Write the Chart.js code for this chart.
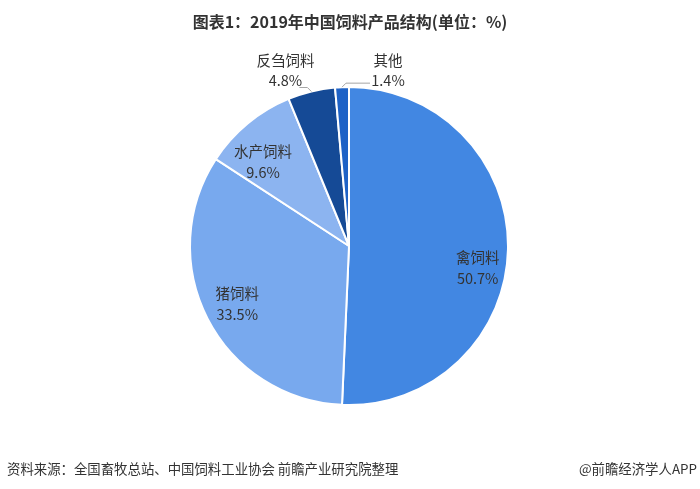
<!DOCTYPE html>
<html>
<head>
<meta charset="utf-8">
<script src="https://cdn.jsdelivr.net/npm/chart.js@4.4.1/dist/chart.umd.min.js"></script>
<style>
  html, body { margin: 0; padding: 0; background: #fff; }
  #wrap { position: relative; width: 700px; height: 489px; overflow: hidden; }
  #title {
    position: absolute; left: 0; top: 9px; width: 700px; text-align: center;
    font: bold 16px "Noto Sans CJK SC", "Noto Sans", sans-serif; color: #333;
  }
  .foot {
    position: absolute; top: 458px;
    font: 13.4px "Noto Sans CJK SC", "Noto Sans", sans-serif; color: #333;
  }
  #source { left: 7px; }
  #brand { right: 3px; }
</style>
</head>
<body>
<div id="wrap">
  <canvas id="pieChart" width="700" height="489"></canvas>
  <div id="title">图表1：2019年中国饲料产品结构(单位：%)</div>
  <div class="foot" id="source">资料来源：全国畜牧总站、中国饲料工业协会 前瞻产业研究院整理</div>
  <div class="foot" id="brand">@前瞻经济学人APP</div>
</div>
<script>
const categories = ['禽饲料', '猪饲料', '水产饲料', '反刍饲料', '其他'];
const shares = [50.7, 33.5, 9.6, 4.8, 1.4];
const sliceColors = ['#4287e2', '#78a9ee', '#8cb4f0', '#154a96', '#1e62c6'];

// how each label sits: inside at a fraction of the radius, or outside with a leader line
const labelPlacement = [
  { inside: true, radius: 0.82, turn: 0.14 },
  { inside: true, radius: 0.79, turn: 0 },
  { inside: true, radius: 0.76, turn: -0.1 },
  { inside: false, side: -1, dx: -22 },
  { inside: false, side: 1, dx: 42 }
];

const pieLabels = {
  id: 'pieLabels',
  afterDatasetsDraw(chart) {
    const ctx = chart.ctx;
    const arcs = chart.getDatasetMeta(0).data;
    ctx.save();
    ctx.font = '14.5px "Noto Sans CJK SC", "Noto Sans", sans-serif';
    ctx.fillStyle = '#333';
    ctx.textAlign = 'center';
    ctx.textBaseline = 'middle';

    arcs.forEach((arc, i) => {
      const place = labelPlacement[i];
      const mid = (arc.startAngle + arc.endAngle) / 2;
      const r = arc.outerRadius;
      const text = `${shares[i].toFixed(1)}%`;

      if (place.inside) {
        const a = mid + place.turn;
        const x = arc.x + Math.cos(a) * r * place.radius;
        const y = arc.y + Math.sin(a) * r * place.radius;
        ctx.fillText(categories[i], x, y - 10);
        ctx.fillText(text, x, y + 11);
        return;
      }

      const x0 = arc.x + Math.cos(mid) * r;
      const y0 = arc.y + Math.sin(mid) * r;
      const x1 = x0 + place.side * 4;
      const y1 = y0 - 4;
      const x2 = place.side < 0 ? x1 - 8 : x1 + 24;
      ctx.strokeStyle = '#a6a6a6';
      ctx.lineWidth = 1;
      ctx.beginPath();
      ctx.moveTo(x0, y0);
      ctx.lineTo(x1, y1);
      ctx.lineTo(x2, y1);
      ctx.stroke();

      const tx = x1 + place.dx;
      const top = arc.y - r;
      ctx.fillText(categories[i], tx, top - 27);
      ctx.fillText(text, tx, top - 7);
    });
    ctx.restore();
  }
};

new Chart(document.querySelector('#pieChart'), {
  type: 'pie',
  data: {
    labels: categories,
    datasets: [{
      data: shares,
      backgroundColor: sliceColors,
      borderColor: '#ffffff',
      borderWidth: 2
    }]
  },
  options: {
    responsive: false,
    animation: false,
    layout: {
      padding: { left: 189, right: 191, top: 86, bottom: 83 }
    },
    plugins: {
      legend: { display: false },
      tooltip: { enabled: false }
    }
  },
  plugins: [pieLabels]
});
</script>
</body>
</html>
